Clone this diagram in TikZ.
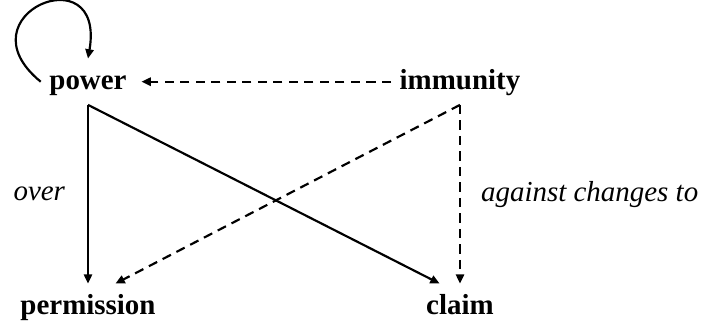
\documentclass[tikz,border=0pt]{standalone}
\usepackage{fontspec}
\setmainfont{Liberation Serif}
\usetikzlibrary{arrows.meta,calc}

\begin{document}
\begin{tikzpicture}[
  x=0.017cm, y=-0.017cm,
  term/.style={font=\fontsize{14}{16}\selectfont\bfseries, text height=11pt, text depth=3pt, inner sep=4pt, anchor=base},
  rel/.style={font=\fontsize{14}{16}\selectfont\itshape, inner sep=0pt},
  arrow/.style={-{Triangle[length=4.5pt, width=4pt]}, line width=1.05pt},
  dasharrow/.style={arrow, dash pattern=on 4.5pt off 3pt}
]
\useasboundingbox (0,0) rectangle (703,323);
\node[term] (power) at (88,90) {power};
\node[term] (immunity) at (460,90) {immunity};
\node[term] (permission) at (88,315) {permission};
\node[term] (claim) at (460,315) {claim};

\draw[arrow] (power.west) .. controls +(-82,-67) and +(18,-105) .. (power.north);
\draw[dasharrow, shorten >=3pt] (immunity.west) -- (power.east);
\draw[arrow] (power.south) -- node[rel, left=10.6pt] {over} (permission.north);
\draw[arrow] (power.south) -- ($(claim.north)!0.48!(claim.north west)$);
\draw[dasharrow] (immunity.south) -- ($(permission.north)!0.36!(permission.north east)$);
\draw[dasharrow] (immunity.south) -- node[rel, right=9.7pt] {against changes to} (claim.north);
\end{tikzpicture}
\end{document}
